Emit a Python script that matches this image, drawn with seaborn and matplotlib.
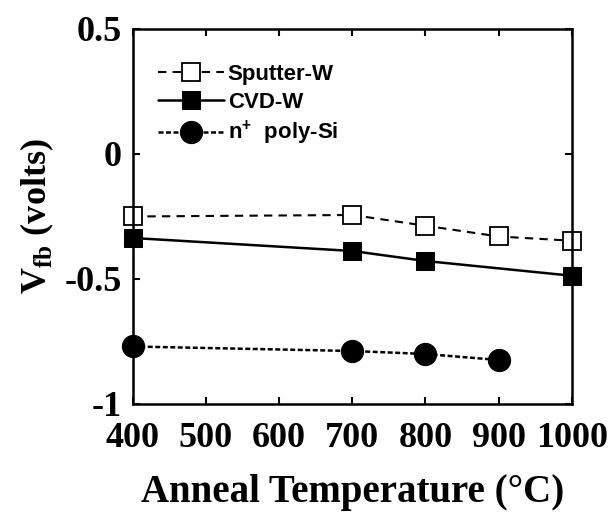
import matplotlib
matplotlib.use("Agg")
import matplotlib.pyplot as plt
import seaborn as sns
import pandas as pd

# Data
temps_sputter = [400, 700, 800, 900, 1000]
vfb_sputter = [-0.25, -0.244, -0.287, -0.33, -0.347]
temps_cvd = [400, 700, 800, 1000]
vfb_cvd = [-0.336, -0.388, -0.428, -0.487]
temps_poly = [400, 700, 800, 900]
vfb_poly = [-0.77, -0.788, -0.80, -0.824]

x_ticks = [400, 500, 600, 700, 800, 900, 1000]
y_ticks = [0.5, 0, -0.5, -1]
y_tick_labels = ["0.5", "0", "-0.5", "-1"]

sns.set_theme(style="ticks")
plt.rcParams["mathtext.fontset"] = "custom"
plt.rcParams["mathtext.rm"] = "Liberation Serif"
plt.rcParams["mathtext.bf"] = "Liberation Serif:bold"
plt.rcParams["mathtext.sf"] = "Liberation Sans:bold"

fig = plt.figure(figsize=(6.09, 5.13), dpi=100)
ax = fig.add_axes([0.218, 0.2125, 0.721, 0.731])

df_s = pd.DataFrame({"T": temps_sputter, "V": vfb_sputter})
df_c = pd.DataFrame({"T": temps_cvd, "V": vfb_cvd})
df_p = pd.DataFrame({"T": temps_poly, "V": vfb_poly})

sns.lineplot(data=df_s, x="T", y="V", ax=ax, color="black", linestyle=(0, (4, 3)),
             linewidth=1.5, marker="s", markersize=13, markerfacecolor="white",
             markeredgecolor="black", markeredgewidth=1.3, label="Sputter-W", clip_on=False)
sns.lineplot(data=df_c, x="T", y="V", ax=ax, color="black", linestyle="-",
             linewidth=1.8, marker="s", markersize=13, markerfacecolor="black",
             markeredgecolor="black", label="CVD-W", clip_on=False)
sns.lineplot(data=df_p, x="T", y="V", ax=ax, color="black", linestyle=(0, (2, 1)),
             linewidth=1.8, marker="o", markersize=16, markerfacecolor="black",
             markeredgecolor="black", label=r"n$^{\mathsf{+}}$  poly-Si", clip_on=False)

ax.set_xlim(400, 1000)
ax.set_ylim(-1, 0.5)
ax.set_xticks(x_ticks)
ax.set_xticklabels([str(t) for t in x_ticks])
ax.set_yticks(y_ticks)
ax.set_yticklabels(y_tick_labels)

for lab in ax.get_xticklabels() + ax.get_yticklabels():
    lab.set_fontfamily("Liberation Serif")
    lab.set_fontweight("bold")
    lab.set_fontsize(26)
    lab.set_color("black")

ax.tick_params(direction="in", length=5, width=1.5, top=True, right=True,
               colors="black")
ax.tick_params(axis="x", pad=13)
ax.tick_params(axis="y", pad=8)
for sp in ax.spines.values():
    sp.set_visible(True)
    sp.set_linewidth(1.8)
    sp.set_color("black")

ax.set_xlabel("Anneal Temperature (°C)", fontfamily="Liberation Serif",
              fontweight="bold", fontsize=28, color="black", labelpad=14)
ax.set_ylabel(r"V$_{\mathbf{fb}}$ (volts)", fontfamily="Liberation Serif",
              fontweight="bold", fontsize=26, color="black", labelpad=6)

leg = ax.legend(loc="upper left", bbox_to_anchor=(0.057, 0.907), frameon=False,
                borderpad=0, borderaxespad=0,
                handlelength=3.0, handletextpad=0.15, labelspacing=0.3,
                prop={"family": "Liberation Sans", "weight": "bold", "size": 16})
for t in leg.get_texts():
    t.set_color("black")

fig.savefig("out.png", dpi=100, facecolor="white")
